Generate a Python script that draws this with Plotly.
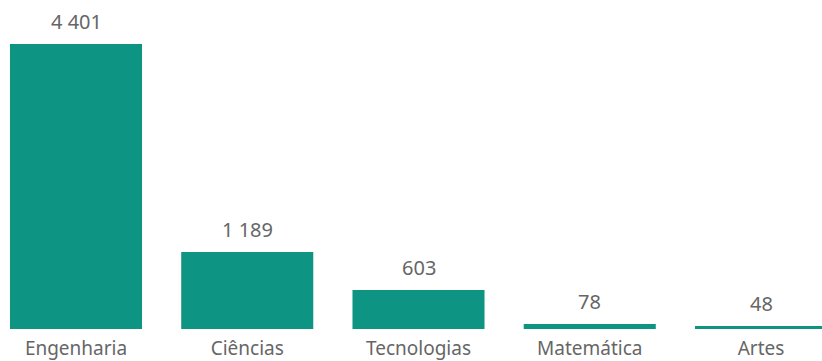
import plotly.graph_objects as go

categories = ["Engenharia", "Ciências", "Tecnologias", "Matemática", "Artes"]
values = [4401, 1189, 603, 78, 48]

bar_color = "#0D9482"
font_family = "Noto Sans, Open Sans, sans-serif"

fig = go.Figure()
fig.add_trace(go.Bar(
    x=categories,
    y=values,
    marker=dict(color=bar_color, line=dict(width=0)),
    hoverinfo="skip",
))

for c, v in zip(categories, values):
    fig.add_annotation(
        x=c, y=v, xref="x", yref="y",
        text=f"{v:,}".replace(",", " "),
        showarrow=False, yanchor="bottom", yshift=7,
        font=dict(family=font_family, size=20, color="#666666"),
    )

fig.update_layout(
    width=822, height=361,
    margin=dict(l=0, r=0, t=0, b=32, autoexpand=False),
    paper_bgcolor="white", plot_bgcolor="white",
    bargap=0.229,
    showlegend=False,
    xaxis=dict(
        range=[-0.4438, 4.3562],
        automargin=False,
        showgrid=False, zeroline=False, showline=False,
        ticks="outside", ticklen=2, tickcolor="rgba(0,0,0,0)",
        tickfont=dict(family=font_family, size=19, color="#666666"),
    ),
    yaxis=dict(range=[0, 5080], visible=False, automargin=False,
               showgrid=False, zeroline=False),
)

fig.write_html(
    "out.html",
    config={"displayModeBar": False, "staticPlot": True},
    post_script="document.body.style.margin='0';document.body.style.overflow='hidden';",
)
